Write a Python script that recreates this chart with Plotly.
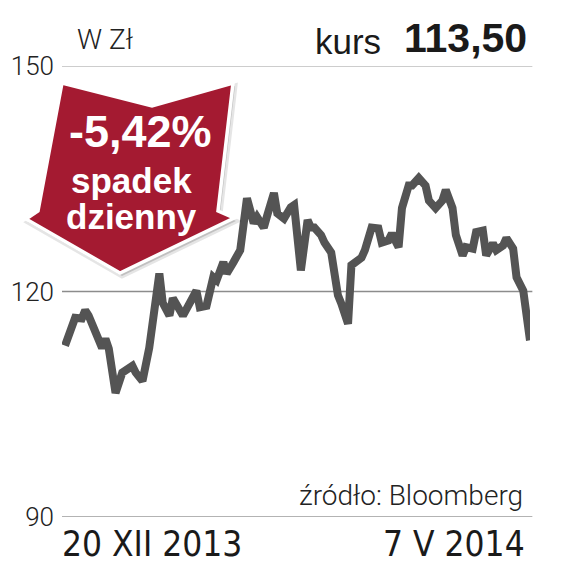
import plotly.graph_objects as go
import pandas as pd

# ---- data ----
start_date = "2013-12-20"
day_offsets = [0, 3, 5, 6, 7, 11, 12, 13, 15, 17, 20, 21, 23, 25, 28, 29, 31, 32, 35, 39,
               40, 42, 44, 45, 47, 48, 50, 52, 54, 56, 57, 59, 60, 62, 63, 65, 67, 68, 70, 72,
               73, 74, 76, 77, 79, 80, 81, 82, 84, 85, 88, 89, 91, 93, 94, 96, 97, 99, 100, 102,
               103, 105, 107, 108, 110, 112, 113, 115, 116, 118, 119, 121, 122, 124, 125, 127, 128, 130, 131, 133,
               134, 136, 138]
prices = [112.8, 116.5, 116.4, 117.5, 116.8, 112.5, 113.7, 112.4, 106.5, 109.2, 110.1, 109.2, 108.1, 112.5, 122.4, 118.5, 116.8, 119.1, 116.8, 120.1,
          117.9, 118.1, 121.9, 121.5, 123.9, 122.4, 123.9, 125.5, 132.4, 129.1, 129.9, 128.5, 130.1, 133.1, 130.4, 129.7, 131.2, 131.5, 122.8, 129.5,
          128.5, 128.5, 127.5, 126.5, 125.2, 121.5, 119.5, 118.4, 115.7, 123.5, 124.5, 125.5, 128.5, 128.4, 126.5, 126.8, 127.7, 125.9, 131.1, 134.1,
          134.1, 135.1, 134.1, 132.1, 131.1, 132.1, 133.5, 131.1, 127.5, 124.8, 125.9, 125.7, 127.9, 128.1, 124.8, 126.4, 125.5, 126.1, 127.1, 125.7,
          121.9, 120.1, 113.5]
y_ticks = [90, 120, 150]
grid_colors = ["#9a9a9a", "#8c8c8c", "#bdbdbd"]
x_labels = ["20 XII 2013", "7 V 2014"]
unit_label = "W Zł"
price_label = "kurs"
last_price_text = "113,50"
change_text = "-5,42%"
change_desc = ["spadek", "dzienny"]
source_text = "źródło: Bloomberg"

# ---- geometry (page pixels; page body has an 8px margin) ----
OFF = 8
W, H = 569 - OFF, 570 - OFF
L, R, T, B = 62, 530, 66, 517   # plot area in page pixels


def px(x):
    return (x - L) / (R - L)


def py(y):
    return (B - y) / (B - T)


start = pd.Timestamp(start_date)
dates = [start + pd.Timedelta(days=d) for d in day_offsets]
day_px = (530 - 65) / day_offsets[-1]
x_range = [start - pd.Timedelta(days=(65 - L) / day_px), start + pd.Timedelta(days=day_offsets[-1])]

fig = go.Figure()
fig.add_trace(go.Scatter(
    x=dates, y=prices, mode="lines",
    line=dict(color="#545454", width=8),
    hoverinfo="skip", showlegend=False,
))

shapes = []
for v, c in zip(y_ticks, grid_colors):
    shapes.append(dict(type="line", xref="paper", yref="y", x0=0, x1=1.005, y0=v, y1=v,
                       line=dict(color=c, width=1.5), layer="below"))

# arrow shape (decoration)
arrow_pts = [(62, 83), (152, 106), (233, 83), (218, 211), (234, 218), (120, 273), (26, 219), (38, 211)]


def path_of(pts, dx=0, dy=0):
    return "M " + " L ".join(f"{px(x + dx):.5f},{py(y + dy):.5f}" for x, y in pts) + " Z"


shapes += [
    dict(type="path", xref="paper", yref="paper", path=path_of(arrow_pts, 2, 3),
         fillcolor="rgba(0,0,0,0.16)", line=dict(color="rgba(0,0,0,0.10)", width=5), layer="above"),
    dict(type="path", xref="paper", yref="paper", path=path_of(arrow_pts),
         fillcolor="#A41A31", line=dict(color="white", width=3.5), layer="above"),
]

txt_font = "Liberation Sans"
annotations = [
    dict(text=unit_label, x=px(75), y=py(58), xanchor="left", yanchor="bottom",
         font=dict(family="Roboto", weight=300, size=28, color="#222")),
    dict(text=price_label, x=px(383), y=py(63), xanchor="right", yanchor="bottom",
         font=dict(family=txt_font, size=35, color="#1a1a1a")),
    dict(text=f"<b>{last_price_text}</b>", x=px(529), y=py(63), xanchor="right", yanchor="bottom",
         font=dict(family=txt_font, size=41, color="#1a1a1a")),
    dict(text=source_text, x=px(525), y=py(514), xanchor="right", yanchor="bottom",
         font=dict(family="Roboto", weight=300, size=28, color="#222")),
    dict(text=x_labels[0], x=px(60), y=py(566), xanchor="left", yanchor="bottom",
         font=dict(family="DejaVu Sans Condensed, Roboto", weight=500, size=35, color="#1a1a1a")),
    dict(text=x_labels[1], x=px(527), y=py(566), xanchor="right", yanchor="bottom",
         font=dict(family="DejaVu Sans Condensed, Roboto", weight=500, size=35, color="#1a1a1a")),
    dict(text=f"<b>{change_text}</b>", x=px(140), y=py(131), xanchor="center", yanchor="middle",
         font=dict(family=txt_font, size=45, color="white")),
    dict(text=f"<b>{change_desc[0]}</b>", x=px(131), y=py(180), xanchor="center", yanchor="middle",
         font=dict(family=txt_font, size=35, color="white")),
    dict(text=f"<b>{change_desc[1]}</b>", x=px(131), y=py(216), xanchor="center", yanchor="middle",
         font=dict(family=txt_font, size=35, color="white")),
]
for a in annotations:
    a.update(xref="paper", yref="paper", showarrow=False)

fig.update_layout(
    width=W, height=H,
    margin=dict(l=L - OFF, r=W - (R - OFF), t=T - OFF, b=H - (B - OFF), pad=0, autoexpand=False),
    paper_bgcolor="white", plot_bgcolor="white",
    shapes=shapes, annotations=annotations,
    xaxis=dict(range=x_range, showgrid=False, zeroline=False, showticklabels=False,
               showline=False, ticks="", automargin=False),
    yaxis=dict(range=[90, 150], tickvals=y_ticks, ticktext=[str(v) for v in y_ticks],
               showgrid=False, zeroline=False, automargin=False,
               showline=False, ticks="", ticklabelstandoff=7,
               tickfont=dict(family="Roboto", weight=300, size=26, color="#222")),
)

fig.write_html("out.html")
